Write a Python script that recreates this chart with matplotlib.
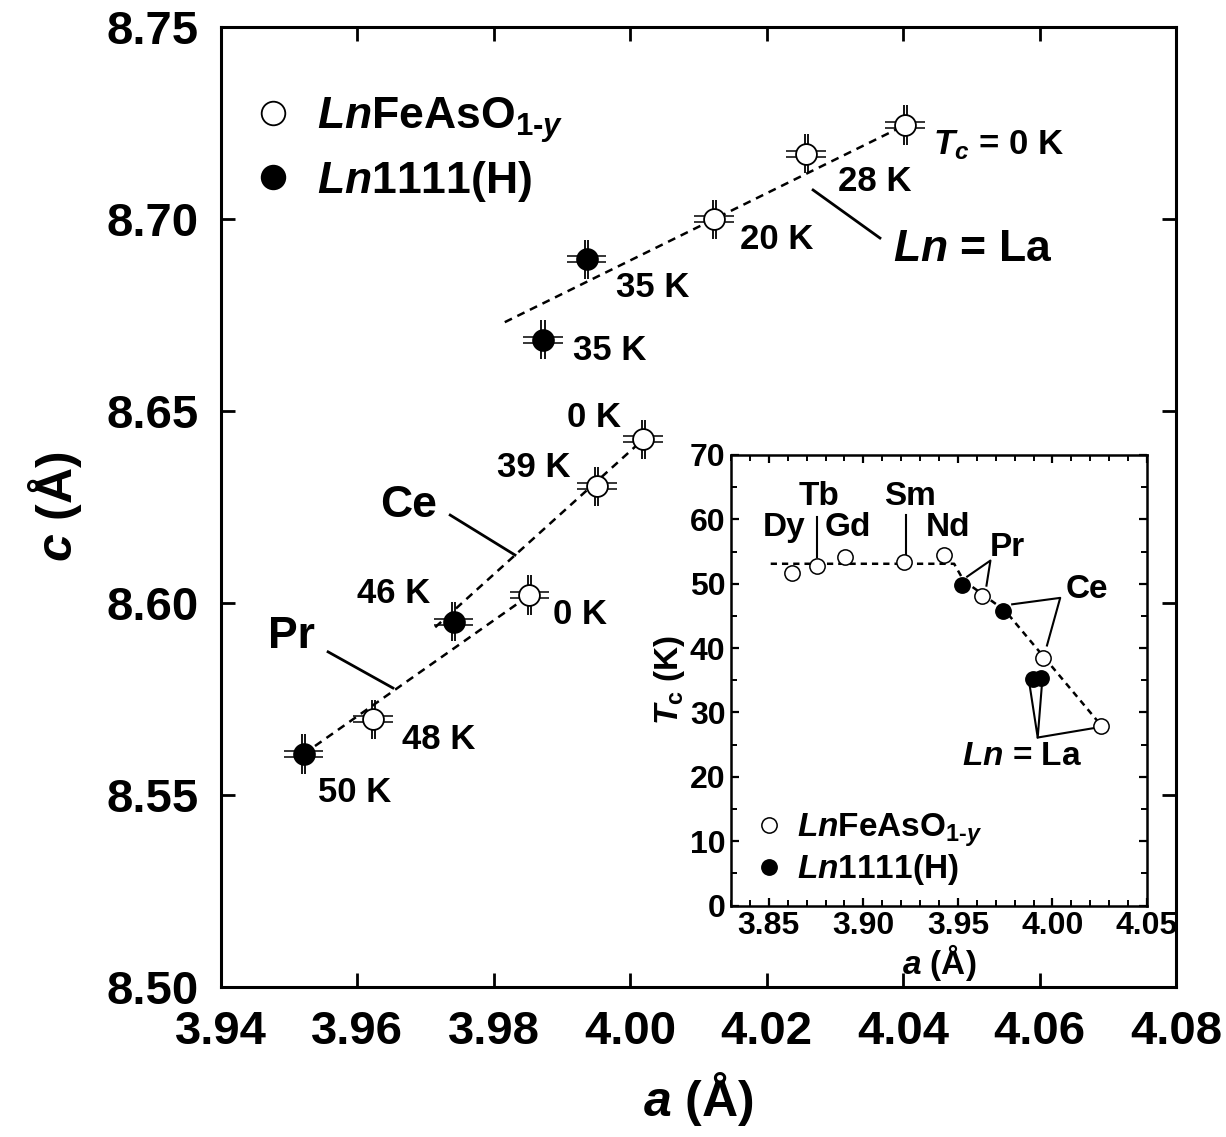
import numpy as np
import matplotlib
matplotlib.use("Agg")
import matplotlib.pyplot as plt
from matplotlib.lines import Line2D
from matplotlib.transforms import offset_copy
from matplotlib.ticker import MultipleLocator, FormatStrFormatter

plt.rcParams['font.family'] = ['Liberation Sans', 'DejaVu Sans']
plt.rcParams['font.weight'] = 'bold'
plt.rcParams['mathtext.fontset'] = 'custom'
plt.rcParams['mathtext.rm'] = 'Liberation Sans:bold'
plt.rcParams['mathtext.it'] = 'Liberation Sans:bold:italic'
plt.rcParams['mathtext.bf'] = 'Liberation Sans:bold'

# ---------------- main panel data: lattice constants ----------------
a_open = np.array([4.0403, 4.0258, 4.0123, 4.0019, 3.9951, 3.9852, 3.9623])
c_open = np.array([8.7244, 8.7169, 8.6999, 8.6426, 8.6304, 8.6021, 8.5698])
tc_open = ["$T_c$ = 0 K", "28 K", "20 K", "0 K", "39 K", "0 K", "48 K"]
a_h = np.array([3.9936, 3.9872, 3.9741, 3.9521])
c_h = np.array([8.6895, 8.6685, 8.5952, 8.5607])
tc_h = ["35 K", "35 K", "46 K", "50 K"]
a_err = 0.0029
c_err = 0.0051

# label anchor positions (left edge, vertical centre) in data units
lab_open_x = [4.0444, 4.0305, 4.0161, 3.9907, 3.9805, 3.9887, 3.9665]
lab_open_y = [8.7192, 8.7096, 8.6945, 8.6484, 8.6354, 8.5971, 8.5645]
lab_h_x = [3.9979, 3.9916, 3.9599, 3.9542]
lab_h_y = [8.6822, 8.6656, 8.6026, 8.5507]

# guide lines per Ln series
la_line_a = [3.9816, 4.0403]
la_line_c = [8.6731, 8.7244]
ce_line_a = [3.9714, 4.0019]
ce_line_c = [8.5937, 8.6426]
pr_line_a = [3.9521, 3.9860]
pr_line_c = [8.5607, 8.6030]

series_names = ["$Ln$ = La", "Ce", "Pr"]
series_lab_x = [4.0385, 3.9633, 3.9469]
series_lab_y = [8.6919, 8.6255, 8.5913]
leader_a = [[4.0268, 4.0366], [3.9736, 3.9831], [3.9557, 3.9652]]
leader_c = [[8.7075, 8.6950], [8.6229, 8.6125], [8.5873, 8.5779]]

# ---------------- inset data: Tc vs a ----------------
in_names = ["Dy", "Tb", "Gd", "Sm", "Nd", "Pr", "Ce", "La"]
in_a_open = np.array([3.862, 3.8754, 3.8905, 3.9216, 3.9428, 3.9627, 3.9949, 4.0255])
in_tc_open = np.array([51.6, 52.7, 54.1, 53.3, 54.4, 48.1, 38.5, 27.9])
in_a_h = np.array([3.9523, 3.9741, 3.9896, 3.9940])
in_tc_h = np.array([49.8, 45.8, 35.2, 35.3])
in_trend_a = [3.851, 3.948, 3.953, 3.975, 4.026]
in_trend_tc = [53.1, 53.1, 50.5, 45.8, 27.9]

in_lab_text = ["Dy", "Tb", "Gd", "Sm", "Nd", "Pr", "Ce", "$Ln$ = La"]
in_lab_x = [3.858, 3.8764, 3.8917, 3.9245, 3.945, 3.9762, 4.0184, 3.9841]
in_lab_y = [58.7, 63.5, 58.7, 63.5, 58.7, 55.6, 49.1, 23.1]
in_leaders = [
    ([3.8754, 3.8754], [60.3, 54.2]),
    ([3.9223, 3.9223], [60.6, 54.5]),
    ([3.9549, 3.9672, 3.9651], [51.1, 53.6, 49.7]),
    ([3.9787, 4.0041, 3.9971], [46.8, 47.8, 40.4]),
    ([3.9879, 3.9922, 3.9945], [34.3, 26.1, 34.6]),
    ([3.9922, 4.0226], [26.1, 27.6]),
]

W, H = 1226, 1137
fig = plt.figure(figsize=(W / 100, H / 100), dpi=100)
ax = fig.add_axes([221 / W, 1 - 987.3 / H, (1176 - 221) / W, (987.3 - 26.7) / H])

ax.set_xlim(3.94, 4.08)
ax.set_ylim(8.50, 8.75)
ax.xaxis.set_major_locator(MultipleLocator(0.02))
ax.yaxis.set_major_locator(MultipleLocator(0.05))
ax.xaxis.set_major_formatter(FormatStrFormatter('%.2f'))
ax.yaxis.set_major_formatter(FormatStrFormatter('%.2f'))
ax.tick_params(direction='in', length=10, width=2, top=True, right=True,
               labelsize=34, pad=16)
for s in ax.spines.values():
    s.set_linewidth(2.2)

dash = (0, (3.2, 2.4))
for xs, ys in [(la_line_a, la_line_c), (ce_line_a, ce_line_c), (pr_line_a, pr_line_c)]:
    ax.plot(xs, ys, color='k', lw=1.8, linestyle=dash, zorder=1)

a_all = np.concatenate([a_open, a_h])
c_all = np.concatenate([c_open, c_h])
for dy in (-3.0, 3.0):
    tr = offset_copy(ax.transData, fig=fig, x=0, y=dy, units='dots')
    ax.hlines(c_all, a_all - a_err, a_all + a_err, colors='k', lw=1.1,
              transform=tr, zorder=2)
for dx in (-1.6, 1.6):
    tr = offset_copy(ax.transData, fig=fig, x=dx, y=0, units='dots')
    ax.vlines(a_all, c_all - c_err, c_all + c_err, colors='k', lw=1.3,
              transform=tr, zorder=2)

ax.plot(a_open, c_open, 'o', ms=15, mfc='white', mec='k', mew=1.3, ls='none', zorder=3)
ax.plot(a_h, c_h, 'o', ms=15, mfc='black', mec='k', mew=1.3, ls='none', zorder=3)

for t, x, y in zip(tc_open, lab_open_x, lab_open_y):
    ax.text(x, y, t, fontsize=25, fontweight='bold', ha='left', va='center')
for t, x, y in zip(tc_h, lab_h_x, lab_h_y):
    ax.text(x, y, t, fontsize=25, fontweight='bold', ha='left', va='center')
for t, x, y in zip(series_names, series_lab_x, series_lab_y):
    ax.text(x, y, t, fontsize=32, fontweight='bold', ha='left', va='center')
for xs, ys in zip(leader_a, leader_c):
    ax.plot(xs, ys, color='k', lw=2.0, zorder=1)

ax.set_xlabel("$a$ (Å)", fontsize=36, fontweight='bold', labelpad=12)
ax.set_ylabel("$c$ (Å)", fontsize=36, fontweight='bold', labelpad=16)

h_open = Line2D([], [], marker='o', ls='none', ms=17, mfc='white', mec='k', mew=1.3)
h_fill = Line2D([], [], marker='o', ls='none', ms=17, mfc='black', mec='k', mew=1.3)
leg = ax.legend([h_open, h_fill],
                [r"$Ln$FeAsO$_{1\text{-}y}$", r"$Ln$1111(H)"],
                loc='upper left', bbox_to_anchor=(0.031, 0.929), frameon=False,
                fontsize=32, handlelength=1.0, handletextpad=0.5,
                borderpad=0, borderaxespad=0, labelspacing=0.32)

# ---------------- inset ----------------
ins = fig.add_axes([731 / W, 1 - 905.5 / H, (1147 - 731) / W, (905.5 - 455) / H])
ins.set_facecolor('white')
ins.set_zorder(5)
ins.set_xlim(3.83, 4.05)
ins.set_ylim(0, 70)
ins.xaxis.set_major_locator(MultipleLocator(0.05))
ins.xaxis.set_minor_locator(MultipleLocator(0.01))
ins.yaxis.set_major_locator(MultipleLocator(10))
ins.yaxis.set_minor_locator(MultipleLocator(5))
ins.xaxis.set_major_formatter(FormatStrFormatter('%.2f'))
ins.tick_params(which='both', direction='in', top=True, right=True, labelsize=23, pad=4)
ins.tick_params(which='major', length=6, width=1.6)
ins.tick_params(which='minor', length=4, width=1.4)
for s in ins.spines.values():
    s.set_linewidth(1.8)

ins.plot(in_trend_a, in_trend_tc, color='k', lw=1.8, linestyle=(0, (2.5, 2.0)), zorder=1)
for xs, ys in in_leaders:
    ins.plot(xs, ys, color='k', lw=1.5, zorder=1)
ins.plot(in_a_open, in_tc_open, 'o', ms=11, mfc='white', mec='k', mew=1.1, ls='none', zorder=3)
ins.plot(in_a_h, in_tc_h, 'o', ms=11, mfc='black', mec='k', mew=1.1, ls='none', zorder=3)
for t, x, y in zip(in_lab_text, in_lab_x, in_lab_y):
    ins.text(x, y, t, fontsize=24, fontweight='bold', ha='center', va='center')

ins.set_xlabel("$a$ (Å)", fontsize=24, fontweight='bold', labelpad=1)
ins.set_ylabel(r"$T_{\rm c}$ (K)", fontsize=24, fontweight='bold', labelpad=2)

hi_open = Line2D([], [], marker='o', ls='none', ms=11, mfc='white', mec='k', mew=1.1)
hi_fill = Line2D([], [], marker='o', ls='none', ms=11, mfc='black', mec='k', mew=1.1)
ins.legend([hi_open, hi_fill],
           [r"$Ln$FeAsO$_{1\text{-}y}$", r"$Ln$1111(H)"],
           loc='lower left', bbox_to_anchor=(0.055, 0.04), frameon=False,
           fontsize=24, handlelength=0.9, handletextpad=0.4,
           borderpad=0, borderaxespad=0, labelspacing=0.1)

fig.savefig("out.png", dpi=100)
